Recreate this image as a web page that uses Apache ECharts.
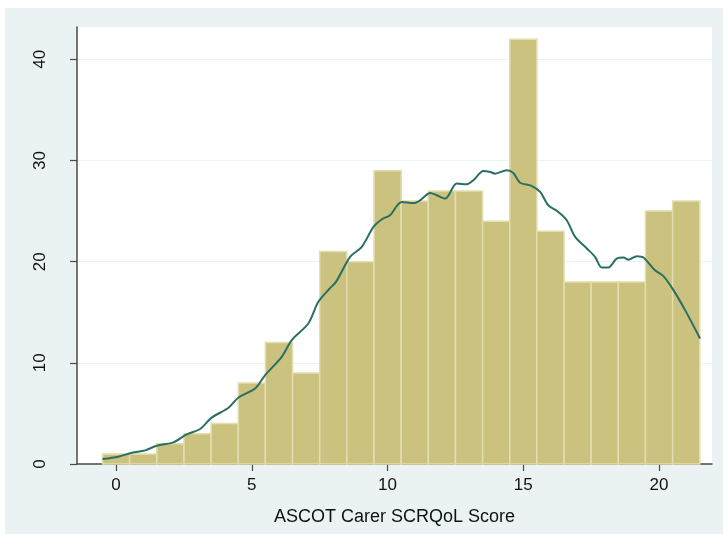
<!DOCTYPE html>
<html>
<head>
<meta charset="utf-8">
<script src="https://cdn.jsdelivr.net/npm/echarts@6/dist/echarts.min.js"></script>
<style>
  html, body { margin: 0; padding: 0; background: #fff; }
  #chart { position: absolute; left: 5px; top: 8px; width: 718px; height: 526px; }
</style>
</head>
<body>
<div id="chart"></div>
<script>
// histogram: score (bin centre) and frequency
const scores = [0, 1, 2, 3, 4, 5, 6, 7, 8, 9, 10, 11, 12, 13, 14, 15, 16, 17, 18, 19, 20, 21]
const counts = [1, 1, 2, 3, 4, 8, 12, 9, 21, 20, 29, 26, 27, 27, 24, 42, 23, 18, 18, 18, 25, 26]

// kernel density overlay, scaled to frequency
const densityX = [-0.50, 0.08, 0.58, 1.07, 1.50, 2.11, 2.60, 3.09, 3.52, 4.14, 4.51, 5.12, 5.49, 6.10, 6.47, 7.08, 7.45, 7.85, 8.10, 8.62,
  9.05, 9.48, 9.79, 10.09, 10.52, 10.95, 11.20, 11.57, 11.81, 12.12, 12.55, 12.92, 13.16, 13.53, 13.78, 13.96, 14.39, 14.63, 14.88, 15.30,
  15.62, 15.92, 16.29, 16.60, 16.91, 17.34, 17.64, 17.89, 18.13, 18.44, 18.69, 18.87, 19.18, 19.42, 19.85, 20.16, 20.53, 20.96, 21.51]
const densityY = [0.49, 0.72, 1.12, 1.35, 1.81, 2.14, 2.93, 3.46, 4.58, 5.56, 6.58, 7.47, 8.79, 10.60, 12.25, 13.89, 16.03, 17.30, 18.00, 20.48,
  21.46, 23.44, 24.20, 24.60, 25.90, 25.80, 26.07, 26.80, 26.57, 26.24, 27.72, 27.65, 28.05, 28.97, 28.87, 28.70, 29.04, 28.77, 27.80, 27.50,
  26.90, 25.58, 24.92, 24.10, 22.45, 21.30, 20.48, 19.42, 19.42, 20.30, 20.41, 20.20, 20.54, 20.41, 19.16, 18.57, 17.19, 15.21, 12.41]

const xTicks = [0, 5, 10, 15, 20]
const yTicks = [0, 10, 20, 30, 40]

const font = 'Liberation Sans, Arial, sans-serif'
const myChart = echarts.init(document.getElementById('chart'))

const option = {
  backgroundColor: '#EAF2F3',
  animation: false,
  grid: {
    left: 72, top: 19, right: 11, bottom: 70,
    show: true, backgroundColor: '#fff', borderWidth: 0
  },
  xAxis: {
    type: 'value',
    min: -1.44,
    max: 21.95,
    name: 'ASCOT Carer SCRQoL Score',
    nameLocation: 'middle',
    nameGap: 44,
    nameTextStyle: { color: '#111', fontSize: 18, fontFamily: font },
    axisLine: { onZero: false, lineStyle: { color: '#4a4a4a', width: 1.5 } },
    axisTick: { customValues: xTicks, length: 7, lineStyle: { color: '#4a4a4a', width: 1.2 } },
    axisLabel: { customValues: xTicks, margin: 13, color: '#111', fontSize: 17, fontFamily: font },
    splitLine: { show: false }
  },
  yAxis: {
    type: 'value',
    min: 0,
    max: 43.2,
    interval: 10,
    axisLine: { show: true, onZero: false, lineStyle: { color: '#4a4a4a', width: 1.5 } },
    axisTick: { customValues: yTicks, length: 7, lineStyle: { color: '#4a4a4a', width: 1.2 } },
    axisLabel: { customValues: yTicks, rotate: 90, margin: 28, color: '#111', fontSize: 17, fontFamily: font },
    splitLine: { show: true, lineStyle: { color: '#EAF2F3', width: 1.2 } }
  },
  series: [
    {
      type: 'custom',
      data: scores.map((s, i) => [s, counts[i]]),
      renderItem: function (params, api) {
        const x = api.value(0)
        const y = api.value(1)
        const p0 = api.coord([x - 0.5, 0])
        const p1 = api.coord([x + 0.5, y])
        return {
          type: 'rect',
          shape: { x: p0[0], y: p1[1], width: p1[0] - p0[0], height: p0[1] - p1[1] },
          style: { fill: '#CAC27E', stroke: '#E3DEAE', lineWidth: 1.5 }
        }
      },
      z: 2
    },
    {
      type: 'line',
      data: densityX.map((x, i) => [x, densityY[i]]),
      showSymbol: false,
      smooth: 0.3,
      lineStyle: { color: '#2B6F63', width: 2 },
      z: 3
    }
  ]
}

myChart.setOption(option)
</script>
</body>
</html>
